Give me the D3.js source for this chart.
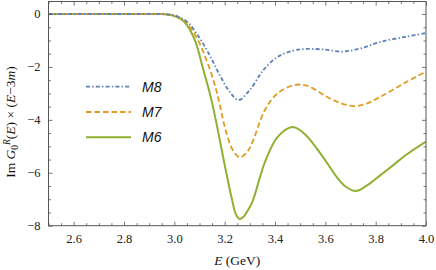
<!DOCTYPE html>
<html><head><meta charset="utf-8">
<script src="https://cdn.jsdelivr.net/npm/d3@7"></script>
<style>body{margin:0;background:#fff}svg{display:block}
.tick text{font-family:'Liberation Serif','Times New Roman',serif !important;font-size:12.5px !important;fill:#222}</style>
</head><body>
<svg id="c" width="436" height="270"></svg>
<script>
const xTicks = [2.6, 2.8, 3.0, 3.2, 3.4, 3.6, 3.8, 4.0];
const yTicks = [0, -2, -4, -6, -8];
const seriesNames = ["M8", "M7", "M6"];
const m8 = [[2.5,0],[2.9,0],[2.95,0],[2.98,-0.02],[3.0,-0.05],[3.05,-0.29],[3.10,-0.9],[3.14,-1.55],[3.18,-2.3],[3.22,-2.94],[3.255,-3.25],[3.30,-2.87],[3.34,-2.3],[3.36,-2.05],[3.41,-1.62],[3.47,-1.39],[3.52,-1.32],[3.59,-1.34],[3.67,-1.42],[3.74,-1.3],[3.82,-1.05],[3.92,-0.86],[4.0,-0.72]];
const m7 = [[2.5,0],[2.9,0],[2.95,0],[2.98,-0.02],[3.0,-0.06],[3.04,-0.25],[3.09,-0.92],[3.13,-1.8],[3.16,-2.65],[3.18,-3.4],[3.2,-4.25],[3.23,-5.1],[3.26,-5.42],[3.29,-5.2],[3.31,-4.85],[3.36,-3.63],[3.41,-3.0],[3.48,-2.68],[3.53,-2.72],[3.63,-3.25],[3.71,-3.48],[3.76,-3.4],[3.82,-3.12],[3.92,-2.58],[4.0,-2.18]];
const m6 = [[2.5,0],[2.9,0],[2.95,0],[2.97,-0.02],[3.0,-0.08],[3.04,-0.3],[3.08,-0.95],[3.115,-2.1],[3.15,-3.35],[3.2,-5.7],[3.23,-7.05],[3.245,-7.58],[3.26,-7.75],[3.275,-7.66],[3.29,-7.45],[3.31,-7.1],[3.36,-5.6],[3.41,-4.65],[3.47,-4.27],[3.52,-4.55],[3.59,-5.4],[3.65,-6.22],[3.68,-6.52],[3.72,-6.69],[3.77,-6.45],[3.82,-6.08],[3.87,-5.71],[3.92,-5.33],[4.0,-4.82]];

const svg = d3.select("#c");
const L = 48.5, R = 426, T = 1.5, B = 225.7;
const x = d3.scaleLinear().domain([2.5, 4.0]).range([L, R]);
const y = d3.scaleLinear().domain([-8, 0.472]).range([B, T]);

const frameColor = "#555";
const series = [
  {name: seriesNames[0], data: m8, color: "#5E81B5", dash: "4,2.2,1.4,2.2", w: 1.8},
  {name: seriesNames[1], data: m7, color: "#E19C24", dash: "5.5,3", w: 1.8},
  {name: seriesNames[2], data: m6, color: "#8FB032", dash: null, w: 2}
];

svg.append("clipPath").attr("id","clip").append("rect")
  .attr("x", L).attr("y", T).attr("width", R-L).attr("height", B-T);

const line = d3.line().x(d => x(d[0])).y(d => y(d[1])).curve(d3.curveCatmullRom.alpha(0.5));
const g = svg.append("g").attr("clip-path","url(#clip)");
series.slice().reverse().forEach(s => {
  g.append("path").attr("d", line(s.data)).attr("fill","none")
    .attr("stroke", s.color).attr("stroke-width", s.w)
    .attr("stroke-dasharray", s.dash);
});

// frame with ticks
const majorLen = 4, minorLen = 2.5;
const minorX = d3.range(0, 31).map(i => 2.5 + i*0.05).filter(v => !xTicks.some(t => Math.abs(t-v)<1e-6));
const minorY = d3.range(0, 17).map(i => -8 + i*0.5).filter(v => !yTicks.some(t => Math.abs(t-v)<1e-6));

function styleAxis(a){ a.select(".domain").remove(); a.attr("font-family","'Liberation Serif', serif").attr("font-size",12.5); }

svg.append("g").attr("transform",`translate(0,${B})`)
  .call(d3.axisBottom(x).tickValues(xTicks).tickSize(-majorLen).tickPadding(8).tickFormat(d3.format(".1f")))
  .call(styleAxis);
svg.append("g").attr("transform",`translate(0,${B})`)
  .call(d3.axisBottom(x).tickValues(minorX).tickSize(-minorLen).tickFormat(""))
  .call(styleAxis);
svg.append("g").attr("transform",`translate(0,${T})`)
  .call(d3.axisTop(x).tickValues(xTicks).tickSize(-majorLen).tickFormat(""))
  .call(styleAxis);
svg.append("g").attr("transform",`translate(0,${T})`)
  .call(d3.axisTop(x).tickValues(minorX).tickSize(-minorLen).tickFormat(""))
  .call(styleAxis);
svg.append("g").attr("transform",`translate(${L},0)`)
  .call(d3.axisLeft(y).tickValues(yTicks).tickSize(-majorLen).tickPadding(8).tickFormat(d => d === 0 ? "0" : "\u2212" + Math.abs(d)))
  .call(styleAxis);
svg.append("g").attr("transform",`translate(${L},0)`)
  .call(d3.axisLeft(y).tickValues(minorY).tickSize(-minorLen).tickFormat(""))
  .call(styleAxis);
svg.append("g").attr("transform",`translate(${R},0)`)
  .call(d3.axisRight(y).tickValues(yTicks).tickSize(-majorLen).tickFormat(""))
  .call(styleAxis);
svg.append("g").attr("transform",`translate(${R},0)`)
  .call(d3.axisRight(y).tickValues(minorY).tickSize(-minorLen).tickFormat(""))
  .call(styleAxis);

svg.selectAll(".tick line").attr("stroke", frameColor).attr("stroke-width", 0.8);

svg.append("rect").attr("x", L).attr("y", T).attr("width", R-L).attr("height", B-T)
  .attr("fill","none").attr("stroke", frameColor).attr("stroke-width", 1);

// legend
const lg = svg.append("g");
series.forEach((s, i) => {
  const yy = 86.7 + i*25.3;
  lg.append("line").attr("x1", 86).attr("x2", 131).attr("y1", yy).attr("y2", yy)
    .attr("stroke", s.color).attr("stroke-width", s.w).attr("stroke-dasharray", s.dash);
  lg.append("text").attr("x", 142).attr("y", yy + 5)
    .attr("font-family","'Liberation Sans', Arial, sans-serif").attr("font-style","italic")
    .attr("font-size", 14).attr("fill","#111").text(s.name);
});

// axis titles
const xt = svg.append("text").attr("x", (L+R)/2).attr("y", 265).attr("text-anchor","middle")
  .attr("font-family","'Liberation Serif', serif").attr("font-size", 13.5).attr("fill","#111");
xt.append("tspan").attr("font-style","italic").text("E");
xt.append("tspan").text(" (GeV)");

const yt = svg.append("text").attr("transform","translate(15,122) rotate(-90)").attr("text-anchor","middle")
  .attr("font-family","'Liberation Serif', serif").attr("font-size", 13.5).attr("fill","#111");
yt.append("tspan").text("Im ");
yt.append("tspan").attr("font-style","italic").text("G");
yt.append("tspan").attr("font-size", 9.5).attr("dy", 3).text("0");
yt.append("tspan").attr("font-size", 9.5).attr("font-style","italic").attr("dy", -8).text("R");
yt.append("tspan").attr("dy", 5).text("(");
yt.append("tspan").attr("font-style","italic").text("E");
yt.append("tspan").text(") \u00D7 (");
yt.append("tspan").attr("font-style","italic").text("E");
yt.append("tspan").text("\u22123");
yt.append("tspan").attr("font-style","italic").text("m");
yt.append("tspan").text(")");
</script>
</body></html>
